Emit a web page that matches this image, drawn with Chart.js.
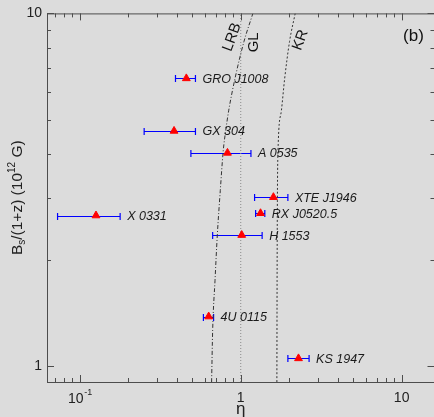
<!DOCTYPE html>
<html>
<head>
<meta charset="utf-8">
<script src="https://cdn.jsdelivr.net/npm/chart.js@4.4.0/dist/chart.umd.min.js"></script>
<style>
  html, body { margin: 0; padding: 0; background: #dcdcdc; overflow: hidden; }
  #wrap { width: 440px; height: 417px; }
</style>
</head>
<body>
<div id="wrap"><canvas id="chart" width="440" height="417"></canvas></div>
<script>
// sources, eta with its error range, field
const sources = ['GRO J1008', 'GX 304', 'A 0535', 'XTE J1946', 'RX J0520.5', 'H 1553', 'X 0331', '4U 0115', 'KS 1947'];
const eta   = [0.459, 0.385, 0.827, 1.596, 1.327, 1.014, 0.126, 0.632, 2.285];
const etaLo = [0.393, 0.251, 0.490, 1.219, 1.237, 0.669, 0.0727, 0.586, 1.963];
const etaHi = [0.523, 0.523, 1.157, 1.963, 1.411, 1.358, 0.178, 0.678, 2.659];
const bField = [6.54, 4.64, 4.02, 3.01, 2.71, 2.35, 2.67, 1.38, 1.05];

// model curves
const lrbEta = [0.659, 0.669, 0.692, 0.715, 0.746, 0.778, 0.806, 0.841, 0.922, 1.048, 1.19];
const lrbB   = [0.9, 1.264, 1.75, 2.35, 3.14, 4.07, 4.64, 5.29, 6.55, 8.33, 10];
const glEta  = [1, 1];
const glB    = [0.9, 10];
const krEta  = [1.677, 1.682, 1.689, 1.704, 1.788, 1.873, 2.011, 2.18];
const krB    = [0.9, 1.75, 2.94, 4.07, 5.29, 6.51, 8.33, 10];

const curveNames = ['LRB', 'GL', 'KR'];
const curveLabelEta = [0.884, 1.207, 2.35];
const curveLabelB   = [8.56, 8.28, 8.4];
const curveLabelRot = [-70, -90, -70];

// tick values
const xTicks = [0.07, 0.08, 0.09, 0.1, 0.2, 0.3, 0.4, 0.5, 0.6, 0.7, 0.8, 0.9, 1, 2, 3, 4, 5, 6, 7, 8, 9, 10];
const yTicks = [1, 2, 3, 4, 5, 6, 7, 8, 9, 10];
const majors = [0.1, 1, 10];

const FONT = '"Liberation Sans", Arial, sans-serif';
const isMajor = v => majors.some(m => Math.abs(m - v) < 1e-9);

const toPts = (xs, ys) => xs.map((v, i) => ({x: v, y: ys[i]}));

// inward ticks + frame
const frameTicks = {
  id: 'frameTicks',
  afterDraw(chart) {
    const {ctx, chartArea: a, scales: {x, y}} = chart;
    ctx.save();
    ctx.strokeStyle = '#4d4d4d';
    ctx.lineWidth = 1;
    ctx.strokeRect(a.left + 0.5, a.top + 0.5, a.right - a.left, a.bottom - a.top);
    ctx.beginPath();
    xTicks.forEach(v => {
      const px = Math.round(x.getPixelForValue(v)) + 0.5;
      const len = isMajor(v) ? 7 : 4;
      ctx.moveTo(px, a.bottom); ctx.lineTo(px, a.bottom - len);
      ctx.moveTo(px, a.top); ctx.lineTo(px, a.top + len);
    });
    yTicks.forEach(v => {
      const py = Math.round(y.getPixelForValue(v)) + 0.5;
      const len = isMajor(v) ? 7 : 4;
      ctx.moveTo(a.left, py); ctx.lineTo(a.left + len, py);
      ctx.moveTo(a.right, py); ctx.lineTo(a.right - len, py);
    });
    ctx.stroke();

    // 10^-1 tick label
    const px = x.getPixelForValue(0.1);
    ctx.fillStyle = '#222';
    ctx.textBaseline = 'alphabetic';
    ctx.font = '14px ' + FONT;
    const w1 = ctx.measureText('10').width;
    ctx.font = '9px ' + FONT;
    const w2 = ctx.measureText('-1').width;
    const start = px - (w1 + w2) / 2;
    ctx.font = '14px ' + FONT;
    ctx.textAlign = 'left';
    ctx.fillText('10', start, a.bottom + 21);
    ctx.font = '9px ' + FONT;
    ctx.fillText('-1', start + w1 + 0.5, a.bottom + 13);

    // x title
    ctx.font = '17px ' + FONT;
    ctx.textAlign = 'center';
    ctx.textBaseline = 'middle';
    ctx.fillText('η', (a.left + a.right) / 2, a.bottom + 27);

    // y title with sub/superscript
    const parts = [['B', 15.5, 0], ['s', 10, 4], ['/(1+z) (10', 15.5, 0], ['12', 10, -6], [' G)', 15.5, 0]];
    let total = 0;
    parts.forEach(p => { ctx.font = p[1] + 'px ' + FONT; total += ctx.measureText(p[0]).width; });
    ctx.translate(18, (a.top + a.bottom) / 2);
    ctx.rotate(-Math.PI / 2);
    ctx.textAlign = 'left';
    let cx = -total / 2;
    parts.forEach(p => {
      ctx.font = p[1] + 'px ' + FONT;
      ctx.fillText(p[0], cx, p[2]);
      cx += ctx.measureText(p[0]).width;
    });
    ctx.restore();

    // panel tag
    ctx.save();
    ctx.fillStyle = '#111';
    ctx.font = '17px ' + FONT;
    ctx.textAlign = 'center';
    ctx.textBaseline = 'middle';
    ctx.fillText('(b)', a.right - 21, a.top + 23);
    ctx.restore();
  }
};

// blue horizontal error bars, under the markers
const errorBars = {
  id: 'errorBars',
  beforeDatasetsDraw(chart) {
    const {ctx, scales: {x, y}} = chart;
    ctx.save();
    ctx.strokeStyle = '#0000ff';
    ctx.lineWidth = 1.2;
    sources.forEach((s, i) => {
      const py = Math.round(y.getPixelForValue(bField[i])) + 0.5;
      const x0 = x.getPixelForValue(etaLo[i]);
      const x1 = x.getPixelForValue(etaHi[i]);
      ctx.beginPath();
      ctx.moveTo(x0, py); ctx.lineTo(x1, py);
      ctx.moveTo(x0, py - 3.5); ctx.lineTo(x0, py + 3.5);
      ctx.moveTo(x1, py - 3.5); ctx.lineTo(x1, py + 3.5);
      ctx.stroke();
    });
    ctx.restore();
  },
  afterDatasetsDraw(chart) {
    const {ctx, scales: {x, y}} = chart;
    ctx.save();
    ctx.fillStyle = '#1a1a1a';
    ctx.font = 'italic 12.5px ' + FONT;
    ctx.textBaseline = 'middle';
    ctx.textAlign = 'left';
    sources.forEach((s, i) => {
      ctx.fillText(s, x.getPixelForValue(etaHi[i]) + 7, y.getPixelForValue(bField[i]) + 1);
    });
    // curve names
    ctx.fillStyle = '#111';
    ctx.font = '15px ' + FONT;
    ctx.textAlign = 'center';
    curveNames.forEach((n, i) => {
      ctx.save();
      ctx.translate(x.getPixelForValue(curveLabelEta[i]), y.getPixelForValue(curveLabelB[i]));
      ctx.rotate(curveLabelRot[i] * Math.PI / 180);
      ctx.fillText(n, 0, 0);
      ctx.restore();
    });
    ctx.restore();
  }
};

new Chart(document.getElementById('chart'), {
  type: 'scatter',
  data: {
    datasets: [
      {
        label: 'sources',
        data: toPts(eta, bField),
        pointStyle: 'triangle',
        pointRadius: 4.5,
        backgroundColor: '#ff0000',
        borderColor: '#ff0000',
        borderWidth: 1
      },
      {
        label: 'LRB',
        data: toPts(lrbEta, lrbB),
        showLine: true,
        pointRadius: 0,
        borderColor: '#333',
        borderWidth: 1,
        borderDash: [4, 2, 1, 2],
        cubicInterpolationMode: 'monotone'
      },
      {
        label: 'GL',
        data: toPts(glEta, glB),
        showLine: true,
        pointRadius: 0,
        borderColor: '#8a8a8a',
        borderWidth: 1,
        borderDash: [1, 2]
      },
      {
        label: 'KR',
        data: toPts(krEta, krB),
        showLine: true,
        pointRadius: 0,
        borderColor: '#333',
        borderWidth: 1,
        borderDash: [2, 2],
        cubicInterpolationMode: 'monotone'
      }
    ]
  },
  options: {
    responsive: false,
    animation: false,
    layout: { padding: { top: 12, right: 2.5, left: 0, bottom: 0 } },
    plugins: { legend: { display: false }, tooltip: { enabled: false } },
    scales: {
      x: {
        type: 'logarithmic',
        min: 0.0625,
        max: 16,
        grid: { display: false, drawTicks: false },
        border: { display: false },
        afterBuildTicks: s => { s.ticks = xTicks.map(v => ({value: v})); },
        afterFit: s => { s.height = 35; },
        ticks: {
          autoSkip: false,
          maxRotation: 0,
          padding: 8,
          color: '#222',
          font: { family: FONT, size: 14 },
          callback: v => (v === 1 ? '1' : v === 10 ? '10' : '')
        }
      },
      y: {
        type: 'logarithmic',
        min: 0.9,
        max: 10,
        grid: { display: false, drawTicks: false },
        border: { display: false },
        afterBuildTicks: s => { s.ticks = yTicks.map(v => ({value: v})); },
        afterFit: s => { s.width = 47; },
        ticks: {
          autoSkip: false,
          padding: 5,
          color: '#222',
          font: { family: FONT, size: 14 },
          callback: v => (v === 1 ? '1' : v === 10 ? '10' : '')
        }
      }
    }
  },
  plugins: [frameTicks, errorBars]
});
</script>
</body>
</html>
